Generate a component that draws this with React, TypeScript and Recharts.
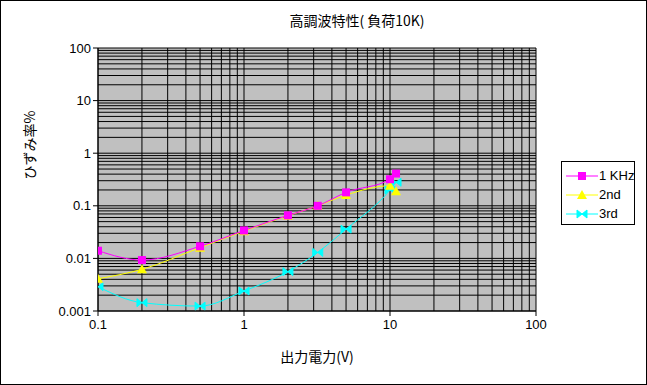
import React from 'react';
import {
  LineChart, Line, XAxis, YAxis, CartesianGrid, ReferenceLine,
} from 'recharts';

const outputV = [0.1, 0.2, 0.5, 1, 2, 3.2, 5, 10, 11];
const khz1 = [0.014, 0.0093, 0.017, 0.034, 0.066, 0.1, 0.18, 0.32, 0.41];
const nd2 = [0.0041, 0.0062, 0.016, 0.033, 0.065, 0.1, 0.16, 0.24, 0.19];
const rd3 = [0.0029, 0.00144, 0.00124, 0.0024, 0.0056, 0.013, 0.036, 0.2, 0.28];

const xTicks = [0.1, 1, 10, 100];
const yTicks = [0.001, 0.01, 0.1, 1, 10, 100];
const xGrid = [
  0.1, 0.2, 0.3, 0.4, 0.5, 0.6, 0.7, 0.8, 0.9,
  1, 2, 3, 4, 5, 6, 7, 8, 9,
  10, 20, 30, 40, 50, 60, 70, 80, 90, 100,
];
const yGrid = [
  0.001, 0.002, 0.003, 0.004, 0.005, 0.006, 0.007, 0.008, 0.009,
  0.01, 0.02, 0.03, 0.04, 0.05, 0.06, 0.07, 0.08, 0.09,
  0.1, 0.2, 0.3, 0.4, 0.5, 0.6, 0.7, 0.8, 0.9,
  1, 2, 3, 4, 5, 6, 7, 8, 9,
  10, 20, 30, 40, 50, 60, 70, 80, 90, 100,
];

const toPoints = (ys: number[]) => outputV.map((x, i) => ({ x, y: ys[i] }));

const series = [
  { name: '1 KHz', color: '#FF00FF', data: toPoints(khz1), shape: 'square' },
  { name: '2nd', color: '#FFFF00', data: toPoints(nd2), shape: 'triangle' },
  { name: '3rd', color: '#00FFFF', data: toPoints(rd3), shape: 'bowtie' },
];
// magenta markers sit on top in the original, so paint in reverse
const drawOrder = [...series].reverse();

const FONT = '"Liberation Sans", Arial, sans-serif';
const JP = '"Noto Sans CJK JP", sans-serif';

const Marker = ({ cx, cy, shape, color }: any) => {
  if (cx == null || cy == null) return null;
  if (shape === 'square') {
    return <rect x={cx - 4} y={cy - 4} width={8} height={8} fill={color} />;
  }
  if (shape === 'triangle') {
    return <polygon points={`${cx},${cy - 5} ${cx - 5},${cy + 4} ${cx + 5},${cy + 4}`} fill={color} />;
  }
  return (
    <g fill={color} stroke={color} strokeWidth={1}>
      <polygon points={`${cx - 5},${cy - 4} ${cx},${cy} ${cx - 5},${cy + 4}`} />
      <polygon points={`${cx + 5},${cy - 4} ${cx},${cy} ${cx + 5},${cy + 4}`} />
    </g>
  );
};

// legend drawn as plain html so it doesn't eat chart space
const LegendBox = () => (
  <div
    style={{
      position: 'absolute', left: 561, top: 161, width: 74, height: 64,
      border: '1px solid #000', background: '#fff', padding: '4px 0 0 0',
      fontFamily: FONT, fontSize: 13, boxSizing: 'border-box',
    }}
  >
    {series.map(s => (
      <div key={s.name} style={{ display: 'flex', alignItems: 'center', height: 19, whiteSpace: 'nowrap' }}>
        <svg width={32} height={12} style={{ marginLeft: 4, flex: 'none' }}>
          <line x1={0} y1={6} x2={32} y2={6} stroke={s.color} strokeWidth={1} />
          <Marker cx={16} cy={6} shape={s.shape} color={s.color} />
        </svg>
        <span style={{ marginLeft: 1, color: '#000' }}>{s.name}</span>
      </div>
    ))}
  </div>
);

export default function App() {
  return (
    <div style={{ position: 'absolute', left: 0, top: 0, width: 647, height: 385, background: '#fff' }}>
      <div style={{ position: 'absolute', inset: 0, border: '1px solid #000', boxSizing: 'border-box', pointerEvents: 'none', zIndex: 2 }} />
      <LineChart width={647} height={385} margin={{ top: 48, right: 111, left: 0, bottom: 0 }}>
        <CartesianGrid fill="#C0C0C0" horizontal={false} vertical={false} />
        {xGrid.map(v => (
          <ReferenceLine key={`vx-${v}`} x={v} stroke="#000" strokeWidth={1} />
        ))}
        {yGrid.map(v => (
          <ReferenceLine key={`hy-${v}`} y={v} stroke="#000" strokeWidth={1} />
        ))}
        <XAxis
          dataKey="x"
          type="number"
          scale="log"
          domain={[0.1, 100]}
          ticks={xTicks}
          allowDataOverflow
          height={74}
          axisLine={{ stroke: '#000' }}
          tickLine={{ stroke: '#000' }}
          tickSize={5}
          tick={{ fill: '#000', fontSize: 13, fontFamily: FONT, dy: 2 }}
          tickFormatter={(v: number) => String(v)}
          label={{ value: '出力電力(V)', position: 'insideBottom', offset: 23, fill: '#000', fontSize: 14, fontFamily: JP }}
        />
        <YAxis
          type="number"
          scale="log"
          domain={[0.001, 100]}
          ticks={yTicks}
          allowDataOverflow
          width={98}
          axisLine={{ stroke: '#000' }}
          tickLine={{ stroke: '#000' }}
          tickSize={5}
          tick={{ fill: '#000', fontSize: 13, fontFamily: FONT }}
          tickFormatter={(v: number) => String(v)}
          label={{ value: 'ひずみ率%', angle: -90, position: 'insideLeft', offset: 30, fill: '#000', fontSize: 14, fontFamily: JP }}
        />
        {drawOrder.map(s => (
          <Line
            key={s.name}
            data={s.data}
            dataKey="y"
            name={s.name}
            type="monotone"
            stroke={s.color}
            strokeWidth={1}
            isAnimationActive={false}
            dot={(p: any) => <Marker key={`${s.name}-${p.index}`} cx={p.cx} cy={p.cy} shape={s.shape} color={s.color} />}
            activeDot={false}
          />
        ))}
        <text x={357} y={26} textAnchor="middle" fontSize={14} fontFamily={JP} fill="#000">
          高調波特性( 負荷10K)
        </text>
      </LineChart>
      <LegendBox />
    </div>
  );
}
